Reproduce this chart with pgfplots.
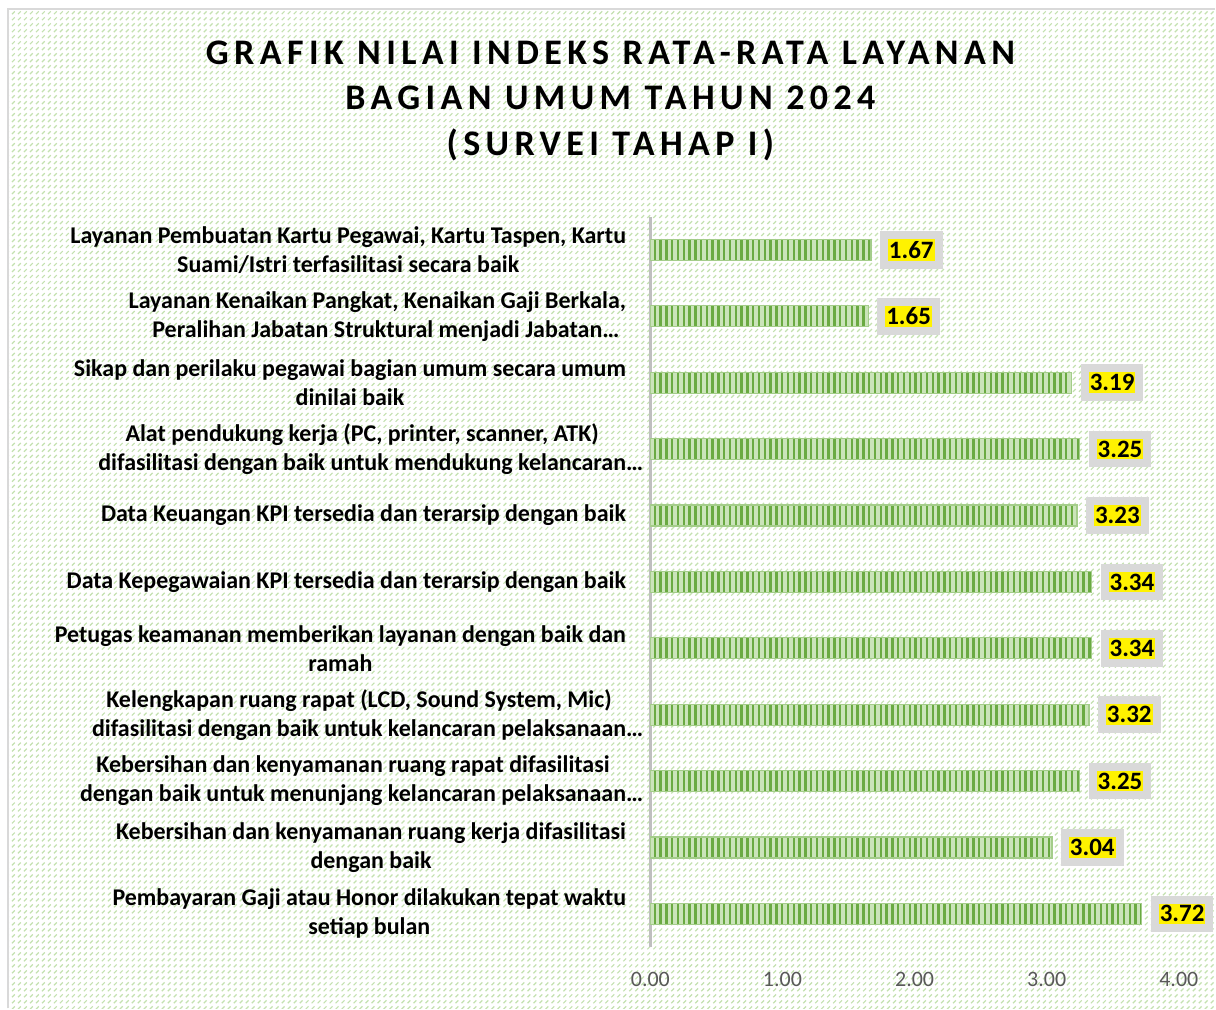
\documentclass[border=0pt]{standalone}
\usepackage{pgfplots}
\pgfplotsset{compat=1.18}
\usepackage{fontspec}
\setmainfont{Carlito}
\usetikzlibrary{patterns,patterns.meta}
\definecolor{barlight}{HTML}{CBE4BA}
\definecolor{bargreen}{HTML}{6AAA42}
\definecolor{bgdash}{HTML}{C4E1B0}
\definecolor{framegray}{HTML}{D9D9D9}
\definecolor{axisgray}{HTML}{BFBFBF}
\definecolor{tickgray}{HTML}{595959}
\pgfdeclarepatternformonly{dashdiag}{\pgfqpoint{-0.5pt}{-0.5pt}}{\pgfqpoint{3.5pt}{3.5pt}}{\pgfqpoint{3pt}{3pt}}{%
  \pgfsetlinewidth{0.6pt}%
  \pgfpathmoveto{\pgfqpoint{0pt}{0pt}}%
  \pgfpathlineto{\pgfqpoint{1.4pt}{1.4pt}}%
  \pgfusepath{stroke}}
\begin{document}
\begin{tikzpicture}
% page
\fill[white] (0pt,0pt) rectangle (608pt,-504.5pt);
\fill[pattern=dashdiag, pattern color=bgdash] (4pt,-4.5pt) rectangle (608pt,-504.5pt);
\draw[framegray, line width=1.2pt] (4pt,-504.5pt) -- (4pt,-4.5pt) -- (608pt,-4.5pt);
% title
\node[align=center, font=\bfseries\fontsize{18}{23}\selectfont\addfontfeature{LetterSpace=15}] at (305.5pt,-50.5pt)
  {GRAFIK NILAI INDEKS RATA-RATA LAYANAN\\BAGIAN UMUM TAHUN 2024\\(SURVEI TAHAP I)};
\begin{axis}[
  at={(325.5pt,-474pt)}, anchor=south west,
  scale only axis, width=264.5pt, height=365.5pt,
  xmin=0, xmax=4, ymin=-0.5, ymax=10.5,
  xbar, bar width=10.5pt,
  axis lines*=left,
  x axis line style={draw=none},
  y axis line style={draw=axisgray, line width=1.25pt},
  tick style={draw=none},
  major tick length=0pt,
  /pgf/number format/assume math mode=true,
  xtick={0,1,2,3,4},
  xticklabel={\pgfmathprintnumber[fixed,fixed zerofill,precision=2]{\tick}},
  xticklabel style={text=tickgray, font=\fontsize{11}{13}\selectfont, anchor=center, yshift=-16pt},
  ytick={0,1,2,3,4,5,6,7,8,9,10},
  yticklabels={
    {Pembayaran Gaji atau Honor dilakukan tepat waktu\\setiap bulan},
    {Kebersihan dan kenyamanan ruang kerja difasilitasi\\dengan baik},
    {Kebersihan dan kenyamanan ruang rapat difasilitasi\\dengan baik untuk menunjang kelancaran pelaksanaan\rlap{…}},
    {Kelengkapan ruang rapat (LCD, Sound System, Mic)\\difasilitasi dengan baik untuk kelancaran pelaksanaan\rlap{…}},
    {Petugas keamanan memberikan layanan dengan baik dan\\ramah},
    {Data Kepegawaian KPI tersedia dan terarsip dengan baik},
    {Data Keuangan KPI tersedia dan terarsip dengan baik},
    {Alat pendukung kerja (PC, printer, scanner, ATK)\\difasilitasi dengan baik untuk mendukung kelancaran\rlap{…}},
    {Sikap dan perilaku pegawai bagian umum secara umum\\dinilai baik},
    {Layanan Kenaikan Pangkat, Kenaikan Gaji Berkala,\\Peralihan Jabatan Struktural menjadi Jabatan\rlap{…}},
    {Layanan Pembuatan Kartu Pegawai, Kartu Taspen, Kartu\\Suami/Istri terfasilitasi secara baik}
  },
  yticklabel style={align=center, anchor=east, inner sep=0pt, xshift=-12pt,
    font=\bfseries\fontsize{12}{14.5}\selectfont},
  point meta=x,
  nodes near coords={\pgfmathprintnumber[fixed,fixed zerofill,precision=2]{\pgfplotspointmeta}},
  nodes near coords align={horizontal},
  nodes near coords style={anchor=west, xshift=4.5pt, fill=yellow, draw=framegray, line width=4pt,
    inner xsep=2.5pt, inner ysep=3pt, text=black, font=\bfseries\fontsize{12.5}{14}\selectfont},
]
\addplot[draw=barlight!60!bargreen, line width=0.6pt, fill=barlight,
  postaction={pattern={Lines[angle=90,distance=2.9pt,line width=1.2pt]}, pattern color=bargreen}]
  coordinates {
  (3.72,0) (3.04,1) (3.25,2) (3.32,3) (3.34,4) (3.34,5) (3.23,6) (3.25,7) (3.19,8) (1.65,9) (1.67,10)
};
\end{axis}
\end{tikzpicture}
\end{document}
